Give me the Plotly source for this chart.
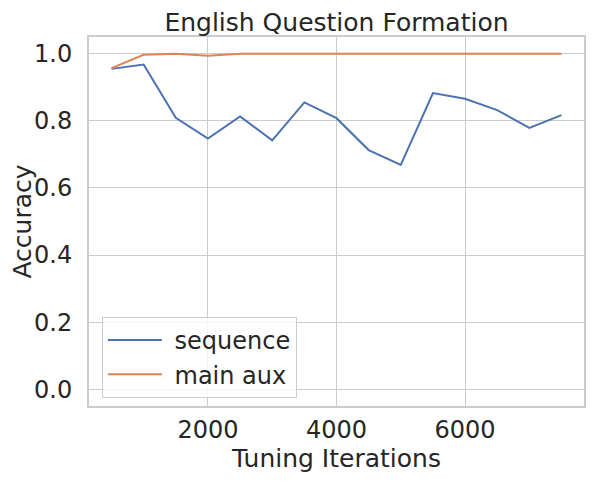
import plotly.graph_objects as go

iterations = [500, 1000, 1500, 2000, 2500, 3000, 3500, 4000,
              4500, 5000, 5500, 6000, 6500, 7000, 7500]
sequence_acc = [0.955, 0.968, 0.809, 0.747, 0.813, 0.742, 0.855, 0.808,
                0.713, 0.669, 0.883, 0.866, 0.832, 0.779, 0.817]
main_aux_acc = [0.957, 0.997, 1.0, 0.994, 1.0, 1.0, 1.0, 1.0,
                1.0, 1.0, 1.0, 1.0, 0.999, 1.0, 1.0]
series_names = ["sequence", "main aux"]

TEXT = "#262626"
GRID = "#cccccc"
FONT = "DejaVu Sans"

# page has an 8px body margin, so the figure is sized to the visible area
W, H = 587, 474

fig = go.Figure()
# leading nbsp widens the gap between legend line and label
fig.add_trace(go.Scatter(x=iterations, y=sequence_acc, mode="lines",
                         name="\u00a0" + series_names[0],
                         line=dict(color="#4C72B0", width=2)))
fig.add_trace(go.Scatter(x=iterations, y=main_aux_acc, mode="lines",
                         name="\u00a0" + series_names[1],
                         line=dict(color="#DD8452", width=2)))

fig.update_layout(
    width=W,
    height=H,
    margin=dict(l=81, r=11, t=29, b=76),
    paper_bgcolor="white",
    plot_bgcolor="white",
    font=dict(family=FONT, color=TEXT, size=24),
    title=dict(text="English Question Formation", x=(81 + 576) / 2 / W,
               xanchor="center", y=1 - 14 / H, yanchor="middle",
               font=dict(size=25, color=TEXT)),
    legend=dict(x=0.026, y=0.022, xanchor="left", yanchor="bottom",
                bgcolor="rgba(255,255,255,0.8)", bordercolor=GRID, borderwidth=1,
                font=dict(size=24, color=TEXT), itemwidth=54, tracegroupgap=4),
    showlegend=True,
)
fig.update_xaxes(
    range=[150, 7850], tickvals=[2000, 4000, 6000],
    showgrid=True, gridcolor=GRID, gridwidth=1,
    showline=True, linecolor=GRID, linewidth=2, mirror=True,
    zeroline=False, ticks="", ticklabelstandoff=1, automargin=False,
    title=dict(text="Tuning Iterations", font=dict(size=25), standoff=6),
)
fig.update_yaxes(
    range=[-0.05, 1.05], tickvals=[0, 0.2, 0.4, 0.6, 0.8, 1.0],
    tickformat=".1f",
    showgrid=True, gridcolor=GRID, gridwidth=1,
    showline=True, linecolor=GRID, linewidth=2, mirror=True,
    zeroline=False, ticks="", ticklabelstandoff=10, automargin=False,
    title=dict(text="Accuracy", font=dict(size=25), standoff=4),
)

fig.write_html("out.html")
